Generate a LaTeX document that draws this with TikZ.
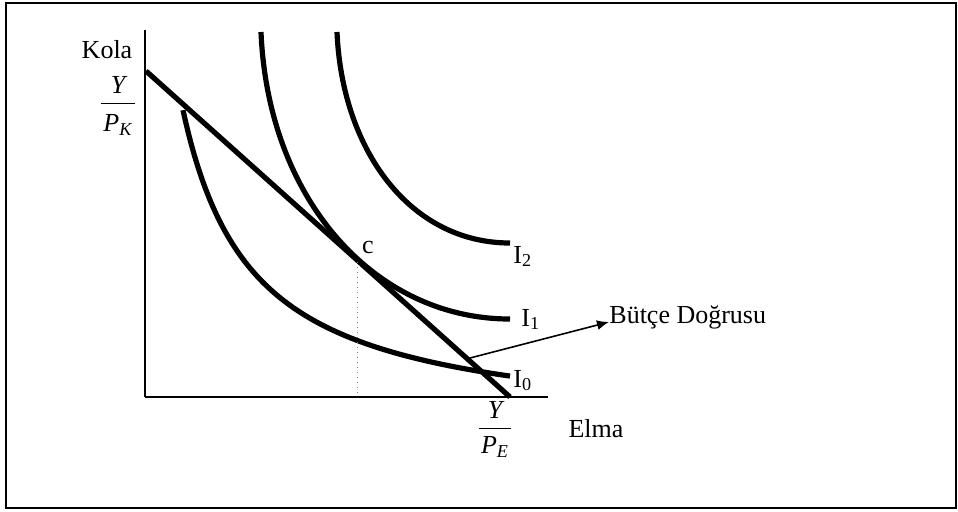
\documentclass[tikz,border=0pt]{standalone}
\usepackage{amsmath}
\usepackage{fontspec}
\setmainfont{Liberation Serif}
\usepackage{tikz}
\usetikzlibrary{arrows.meta}

\begin{document}
\begin{tikzpicture}[x=0.5pt,y=-0.5pt,
  every node/.style={font=\fontsize{13pt}{15pt}\selectfont, inner sep=0pt},
  icurve/.style={line width=2.6pt}]
\useasboundingbox (0,0) rectangle (958,511);
\draw[line width=1pt] (6,3) rectangle (956,508);
\coordinate (origin) at (145,397);
\coordinate (ytip) at (145,30);
\coordinate (xtip) at (548,397);
\draw[line width=0.9pt] (origin) -- (ytip);
\draw[line width=1.4pt] (origin) -- (xtip);
\coordinate (ktop) at (146,71);
\coordinate (eend) at (510,397);
\draw[icurve] (ktop) -- (eend);
\draw[icurve] plot[domain=183:510, samples=120] (\x, {433-226/((\x-113)/100)});
\draw[icurve] (261,32) .. controls (268,200) and (375,319) .. (510,319);
\draw[icurve] (337,32) .. controls (342,150) and (410,243) .. (510,243);
\coordinate (ctop) at (357,262);
\coordinate (cfoot) at (357,397);
\draw[dotted, line width=0.5pt, gray] (ctop) -- (cfoot);
\node (kola) at (107,50) {Kola};
\node[anchor=base] (ypk) at (118,109.5) {$\dfrac{\textit{Y}}{\rule{0pt}{12.4pt}\hspace{1pt}\textit{P}_{\textit{K}}\hspace{1pt}}$};
\node[anchor=base] (ype) at (495,434.5) {$\dfrac{\textit{Y}}{\rule{0pt}{11pt}\hspace{1pt}\textit{P}_{\textit{E}}\hspace{1pt}}$};
\node (elma) at (596,429) {Elma};
\node[anchor=base] (c) at (368,253) {c};
\node[anchor=base west] (izero) at (513,387) {I\textsubscript{0}};
\node[anchor=base west] (ione) at (521,326) {I\textsubscript{1}};
\node[anchor=base west] (itwo) at (513,263) {I\textsubscript{2}};
\node[anchor=base west] (budget) at (609,323) {Bütçe Doğrusu};
\coordinate (bpoint) at (470,358);
\draw[line width=0.8pt, -{Latex[length=6pt,width=5pt]}] (bpoint) -- ([yshift=0.5pt]budget.base west);
\end{tikzpicture}
\end{document}
